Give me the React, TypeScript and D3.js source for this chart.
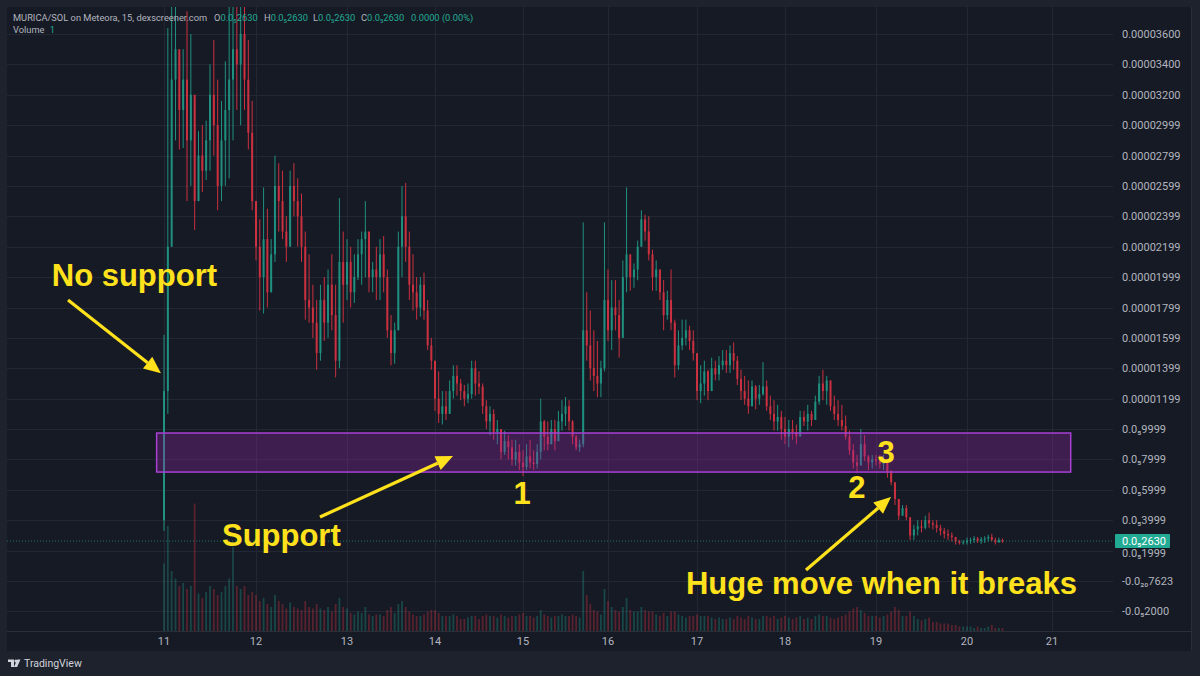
import React from 'react';
import * as d3 from 'd3';

// Hourly candles, prices in units of 1e-8 SOL: [high, low, close]. open = previous close.
type Bar = [number, number, number];

const firstOpen = 400;

const day11: Bar[] = [
  [1620, 330, 1250], [3640, 1100, 2200], [3900, 2700, 3300], [3900, 2900, 3500],
  [3490, 2840, 3100], [3500, 2850, 3300], [3750, 2500, 2900], [3600, 2600, 3200],
  [3160, 2310, 2500], [2960, 2500, 2800], [3000, 2560, 2700], [3030, 2640, 2900],
  [3400, 2700, 3200], [3560, 2800, 3000], [3300, 2440, 2600], [3160, 2500, 2900],
  [3420, 2600, 3100], [3850, 2650, 3300], [3900, 2900, 3500], [3900, 3100, 3400],
  [3850, 3000, 3600], [3900, 3100, 3300], [3560, 2840, 2950], [3160, 2440, 2500],
];
const day12: Bar[] = [
  [2500, 2110, 2200], [2380, 1780, 2000], [2590, 1760, 2250], [2450, 1800, 1900],
  [2250, 1900, 2150], [2800, 2100, 2600], [2750, 2300, 2500], [2700, 2250, 2300],
  [2400, 2100, 2200], [2700, 2250, 2600], [2750, 2400, 2500], [2650, 2200, 2400],
  [2550, 2100, 2200], [2300, 1720, 1850], [2150, 1700, 1800], [1950, 1600, 1700],
  [1850, 1390, 1500], [1950, 1450, 1850], [2000, 1580, 1700], [2050, 1600, 1950],
  [2150, 1650, 1750], [1950, 1340, 1450], [2520, 1400, 2100], [2300, 1700, 1950],
];
const day13: Bar[] = [
  [2250, 1850, 2100], [2200, 1800, 1900], [2150, 1830, 2000], [2250, 1980, 2150],
  [2300, 1950, 2250], [2500, 2000, 2300], [2250, 1900, 2000], [2100, 1900, 2050],
  [2200, 1850, 2000], [2250, 1850, 2150], [2270, 1900, 2000], [2050, 1600, 1650],
  [1750, 1420, 1500], [1700, 1430, 1650], [2300, 1650, 2200], [2600, 2000, 2400],
  [2620, 2100, 2200], [2300, 1850, 1950], [2150, 1780, 1900], [2000, 1720, 1800],
  [2000, 1740, 1950], [2030, 1720, 1780], [1850, 1520, 1550], [1600, 1390, 1450],
];
const day14: Bar[] = [
  [1400, 1120, 1200], [1380, 1040, 1100], [1250, 1030, 1150], [1250, 1060, 1100],
  [1320, 1120, 1250], [1420, 1200, 1350], [1420, 1220, 1300], [1330, 1190, 1250],
  [1290, 1150, 1200], [1300, 1170, 1230], [1450, 1200, 1400], [1450, 1220, 1300],
  [1380, 1230, 1280], [1300, 1100, 1150], [1190, 1000, 1050], [1150, 960, 1100],
  [1130, 930, 980], [1060, 900, 1000], [990, 800, 850], [990, 830, 920],
  [960, 800, 880], [930, 760, 800], [930, 760, 850], [900, 730, 780],
];
const day15: Bar[] = [
  [860, 690, 750], [900, 730, 820], [930, 740, 780], [860, 730, 770],
  [900, 740, 850], [1200, 800, 1050], [1060, 860, 950], [1050, 860, 900],
  [1060, 900, 1000], [1060, 860, 920], [1120, 930, 1050], [1190, 990, 1100],
  [1210, 1020, 1150], [1190, 990, 1050], [1060, 900, 950], [960, 860, 880],
  [930, 850, 900], [2360, 880, 1650], [1900, 1450, 1550], [1780, 1320, 1400],
  [1650, 1250, 1350], [1580, 1210, 1300], [1450, 1210, 1400], [2360, 1380, 1850],
];
const day16: Bar[] = [
  [2050, 1580, 1650], [1980, 1520, 1800], [1980, 1650, 1750], [1850, 1470, 1600],
  [2110, 1720, 2000], [2590, 1900, 2150], [2090, 1910, 2000], [2090, 1930, 2050],
  [2240, 1980, 2200], [2440, 2250, 2380], [2410, 2240, 2300], [2400, 2110, 2150],
  [2180, 1910, 2000], [2110, 1910, 2050], [2050, 1850, 1900], [1980, 1650, 1750],
  [1910, 1720, 1850], [2050, 1650, 1700], [1720, 1340, 1420], [1650, 1390, 1550],
  [1720, 1520, 1600], [1720, 1550, 1650], [1680, 1520, 1580], [1650, 1450, 1500],
];
const day17: Bar[] = [
  [1450, 1190, 1250], [1420, 1170, 1300], [1450, 1220, 1380], [1390, 1190, 1250],
  [1470, 1320, 1400], [1450, 1320, 1360], [1480, 1320, 1420], [1520, 1390, 1450],
  [1520, 1370, 1420], [1550, 1370, 1500], [1570, 1390, 1450], [1480, 1290, 1330],
  [1390, 1190, 1250], [1350, 1160, 1200], [1320, 1100, 1150], [1320, 1160, 1280],
  [1290, 1130, 1200], [1290, 1160, 1230], [1440, 1220, 1280], [1320, 1120, 1150],
  [1220, 1060, 1100], [1190, 990, 1050], [1160, 990, 1080], [1120, 930, 1000],
];
const day18: Bar[] = [
  [1080, 900, 950], [1060, 880, 1000], [1060, 930, 980], [1030, 900, 950],
  [1120, 990, 1080], [1120, 1020, 1050], [1160, 990, 1100], [1120, 1020, 1060],
  [1220, 1060, 1180], [1350, 1160, 1300], [1390, 1190, 1250], [1350, 1160, 1320],
  [1320, 1120, 1150], [1220, 1060, 1100], [1190, 1020, 1060], [1160, 990, 1020],
  [1090, 930, 950], [990, 830, 860], [900, 740, 780], [830, 710, 760],
  [1000, 790, 900], [960, 790, 820], [830, 730, 780], [830, 740, 800],
];
const day19: Bar[] = [
  [830, 760, 790], [830, 740, 770], [830, 730, 800], [780, 680, 720],
  [730, 630, 650], [640, 500, 540], [540, 400, 430], [500, 430, 480],
  [500, 400, 420], [400, 270, 300], [370, 270, 340], [400, 300, 360],
  [400, 320, 350], [430, 340, 400], [450, 350, 380], [400, 340, 370],
  [400, 320, 350], [370, 300, 330], [350, 280, 310], [340, 270, 300],
  [320, 260, 290], [290, 240, 260], [270, 240, 250], [270, 240, 255],
];
const day20: Bar[] = [
  [285, 240, 265], [285, 245, 270], [295, 250, 280], [290, 250, 265],
  [290, 245, 275], [295, 250, 280], [305, 260, 290], [310, 260, 270],
  [285, 240, 255], [285, 250, 270], [280, 250, 263],
];

// Hourly volume (arbitrary units)
const vol11 = [45, 70, 40, 35, 30, 32, 28, 30, 85, 25, 22, 26, 30, 28, 24, 26, 30, 35, 56, 30, 28, 30, 24, 26];
const vol12 = [24, 20, 22, 18, 16, 24, 20, 18, 15, 19, 16, 15, 14, 20, 16, 15, 18, 15, 14, 16, 13, 18, 22, 16];
const vol13 = [15, 12, 11, 13, 12, 16, 11, 10, 11, 11, 10, 14, 16, 12, 18, 20, 16, 13, 11, 10, 10, 11, 13, 14];
const vol14 = [14, 12, 10, 10, 10, 11, 10, 8, 8, 9, 10, 10, 8, 10, 11, 10, 10, 9, 11, 10, 9, 10, 10, 11];
const vol15 = [12, 10, 10, 9, 10, 14, 11, 10, 9, 10, 10, 11, 10, 10, 11, 10, 9, 40, 24, 18, 14, 13, 11, 28];
const vol16 = [20, 16, 14, 13, 16, 22, 14, 13, 13, 16, 14, 13, 13, 11, 10, 12, 10, 13, 13, 11, 10, 9, 10, 10];
const vol17 = [11, 10, 10, 10, 9, 8, 9, 8, 8, 9, 8, 10, 9, 8, 10, 9, 8, 8, 10, 10, 9, 10, 8, 9];
const vol18 = [10, 9, 8, 9, 10, 8, 9, 8, 10, 11, 10, 10, 9, 8, 9, 10, 11, 13, 15, 16, 14, 12, 10, 10];
const vol19 = [10, 9, 10, 11, 13, 16, 14, 10, 10, 13, 10, 8, 7, 8, 9, 6, 6, 5, 5, 5, 4, 4, 3, 3];
const vol20 = [3, 3, 2, 3, 2, 2, 3, 4, 2, 2, 2];

const days = [11, 12, 13, 14, 15, 16, 17, 18, 19, 20];
const dayBars = [day11, day12, day13, day14, day15, day16, day17, day18, day19, day20];
const dayVols = [vol11, vol12, vol13, vol14, vol15, vol16, vol17, vol18, vol19, vol20];

const dayTicks = [11, 12, 13, 14, 15, 16, 17, 18, 19, 20, 21];
const priceTicks = [3600, 3400, 3200, 2999, 2799, 2599, 2399, 2199, 1999, 1799, 1599, 1399, 1199, 999.9, 799.9, 599.9, 399.9, 199.9, 0, -200];
const priceTickLabels = [
  '0.00003600', '0.00003400', '0.00003200', '0.00002999', '0.00002799', '0.00002599',
  '0.00002399', '0.00002199', '0.00001999', '0.00001799', '0.00001599', '0.00001399',
  '0.00001199', '0.0₅9999', '0.0₅7999', '0.0₅5999', '0.0₅3999', '0.0₅1999', '-0.0₂₀7623', '-0.0₅2000',
];
const lastPrice = 263;
const lastPriceLabel = '0.0₅2630';

// annotations in data space (day, price ×1e-8)
const supportZone = { from: 10.92, to: 21.22, low: 717, high: 974 };
const callouts = [
  { text: 'No support', day: 9.78, price: 1941 },
  { text: 'Support', day: 11.63, price: 230 },
  { text: 'Huge move when it breaks', day: 16.876, price: -86 },
];
const touchLabels = [
  { text: '1', day: 14.99, price: 507 },
  { text: '2', day: 18.79, price: 546 },
  { text: '3', day: 19.11, price: 776 },
];
const arrows = [
  { from: [9.957, 1849], to: [10.967, 1368] },
  { from: [12.703, 421], to: [14.205, 822] },
  { from: [18.231, 72], to: [19.165, 553] },
];

const UP = '#22ab94';
const DOWN = '#f23645';
const YELLOW = '#ffe21c';
const AXIS_TEXT = '#b2b5be';
const FONT = "Roboto, 'DejaVu Sans', sans-serif";
const BOLD = "'Liberation Sans', Arial, sans-serif";

const Arrow = ({ x1, y1, x2, y2 }: { x1: number; y1: number; x2: number; y2: number }) => {
  const a = Math.atan2(y2 - y1, x2 - x1);
  const len = 17, half = 7.5;
  const bx = x2 - len * Math.cos(a), by = y2 - len * Math.sin(a);
  const px = -Math.sin(a) * half, py = Math.cos(a) * half;
  return (
    <g>
      <line x1={x1} y1={y1} x2={bx} y2={by} stroke={YELLOW} strokeWidth={3.2} />
      <polygon points={`${x2},${y2} ${bx + px},${by + py} ${bx - px},${by - py}`} fill={YELLOW} />
    </g>
  );
};

export default function App() {
  const W = 1200, H = 676;
  const panel = { left: 7, top: 7, right: 1192, bottom: 651 };
  const plotRight = 1113;
  const volBottom = 631;

  const x = d3.scaleLinear().domain(dayTicks).range([164, 256, 347, 435, 523, 608, 697, 785, 876, 967, 1052]);
  const y = d3.scaleLinear().domain([-200, 3600]).range([611.4, 34]);
  const v = d3.scaleLinear().domain([0, 100]).range([volBottom, 481]);

  let prev = firstOpen;
  const candles = days.flatMap((d, i) =>
    dayBars[i].map((b, h) => {
      const c = { t: d + h / 24, open: prev, high: b[0], low: b[1], close: b[2], vol: dayVols[i][h] };
      prev = b[2];
      return c;
    })
  );

  return (
    <div style={{ position: 'absolute', left: 0, top: 0 }}>
      <svg width={W} height={H} style={{ display: 'block' }}>
        <defs>
          <clipPath id="plot">
            <rect x={panel.left} y={panel.top} width={plotRight - panel.left} height={volBottom - panel.top} />
          </clipPath>
        </defs>
        <rect x={0} y={0} width={W} height={H} fill="#1e222d" />
        <rect x={panel.left} y={panel.top} width={panel.right - panel.left} height={panel.bottom - panel.top} fill="#161a25" />

        {/* grid */}
        <g stroke="#232733" strokeWidth={1}>
          {priceTicks.map((t, i) => (
            <line key={i} x1={panel.left} x2={plotRight} y1={Math.round(y(t)) + 0.5} y2={Math.round(y(t)) + 0.5} />
          ))}
          {dayTicks.map((d) => (
            <line key={d} x1={Math.round(x(d)) + 0.5} x2={Math.round(x(d)) + 0.5} y1={panel.top} y2={volBottom} />
          ))}
        </g>
        <line x1={panel.left} x2={panel.right} y1={volBottom + 0.5} y2={volBottom + 0.5} stroke="#2a2e39" />
        <line x1={panel.right - 0.5} x2={panel.right - 0.5} y1={panel.top} y2={panel.bottom} stroke="#2a2e39" />

        <g clipPath="url(#plot)">
          {/* volume */}
          {candles.map((c, i) => {
            const cx = x(c.t);
            return (
              <rect key={'v' + i} x={cx - 0.9} width={1.8} y={v(c.vol)} height={volBottom - v(c.vol)}
                fill={c.close >= c.open ? UP : DOWN} opacity={0.3} />
            );
          })}
          {/* candles */}
          {candles.map((c, i) => {
            const cx = x(c.t);
            const col = c.close >= c.open ? UP : DOWN;
            const yt = y(Math.max(c.open, c.close));
            const yb = y(Math.min(c.open, c.close));
            return (
              <g key={'c' + i} opacity={0.82}>
                <line x1={cx} x2={cx} y1={y(c.high)} y2={y(c.low)} stroke={col} strokeWidth={1} />
                <rect x={cx - 1} width={2} y={yt} height={Math.max(1, yb - yt)} fill={col} />
              </g>
            );
          })}
          {/* last price line */}
          <line x1={panel.left} x2={plotRight} y1={y(lastPrice)} y2={y(lastPrice)} stroke={UP} strokeOpacity={0.6} strokeDasharray="1,2" />
        </g>

        {/* support zone */}
        <rect x={x(supportZone.from)} width={x(supportZone.to) - x(supportZone.from)}
          y={y(supportZone.high)} height={y(supportZone.low) - y(supportZone.high)}
          fill="#9c27b0" fillOpacity={0.3} stroke="#a940d4" strokeWidth={1.5} />

        {/* price axis */}
        <g fontFamily={FONT} fontSize={11} fill={AXIS_TEXT}>
          {priceTicks.map((t, i) => (
            <text key={i} x={1122} y={y(t) + (t === 199.9 ? 3 : 0)} dy="0.35em">{priceTickLabels[i]}</text>
          ))}
        </g>
        <rect x={1115} y={y(lastPrice) - 7} width={55} height={14} fill={UP} rx={1} />
        <text x={1122} y={y(lastPrice)} dy="0.35em" fontFamily={FONT} fontSize={11} fill="#ffffff">{lastPriceLabel}</text>

        {/* time axis */}
        <g fontFamily={FONT} fontSize={11} fill={AXIS_TEXT} textAnchor="middle">
          {dayTicks.map((d) => (
            <text key={d} x={x(d)} y={645}>{d}</text>
          ))}
        </g>

        {/* header */}
        <g fontFamily={FONT} fontSize={9.3} fill={AXIS_TEXT}>
          <text x={13} y={21}>MURICA/SOL on Meteora, 15, dexscreener.com</text>
          <text x={214} y={21}>O<tspan fill={UP}>0.0₅2630</tspan></text>
          <text x={264} y={21}>H<tspan fill={UP}>0.0₅2630</tspan></text>
          <text x={313} y={21}>L<tspan fill={UP}>0.0₅2630</tspan></text>
          <text x={361} y={21}>C<tspan fill={UP}>0.0₅2630</tspan></text>
          <text x={411} y={21} fill={UP}>0.0000 (0.00%)</text>
          <text x={13} y={33}>Volume <tspan fill={UP} dx={3}>1</tspan></text>
        </g>

        {/* annotations */}
        {arrows.map((a, i) => (
          <Arrow key={i} x1={x(a.from[0])} y1={y(a.from[1])} x2={x(a.to[0])} y2={y(a.to[1])} />
        ))}
        <g fontFamily={BOLD} fontWeight={700} fontSize={31} fill={YELLOW}>
          {callouts.map((c) => (
            <text key={c.text} x={x(c.day)} y={y(c.price)}>{c.text}</text>
          ))}
          {touchLabels.map((c) => (
            <text key={c.text} x={x(c.day)} y={y(c.price)} textAnchor="middle">{c.text}</text>
          ))}
        </g>

        {/* TradingView mark */}
        <g fill="#d1d4dc">
          <path d="M8 659.5 h6 v7.5 h-3 v-5 h-3 z" />
          <circle cx={15.9} cy={661} r={1.5} />
          <path d="M17.3 659.5 h3.2 l-3.4 7.5 h-3.2 z" />
          <text x={24} y={667} fontFamily={FONT} fontSize={10.5}>TradingView</text>
        </g>
      </svg>
    </div>
  );
}
